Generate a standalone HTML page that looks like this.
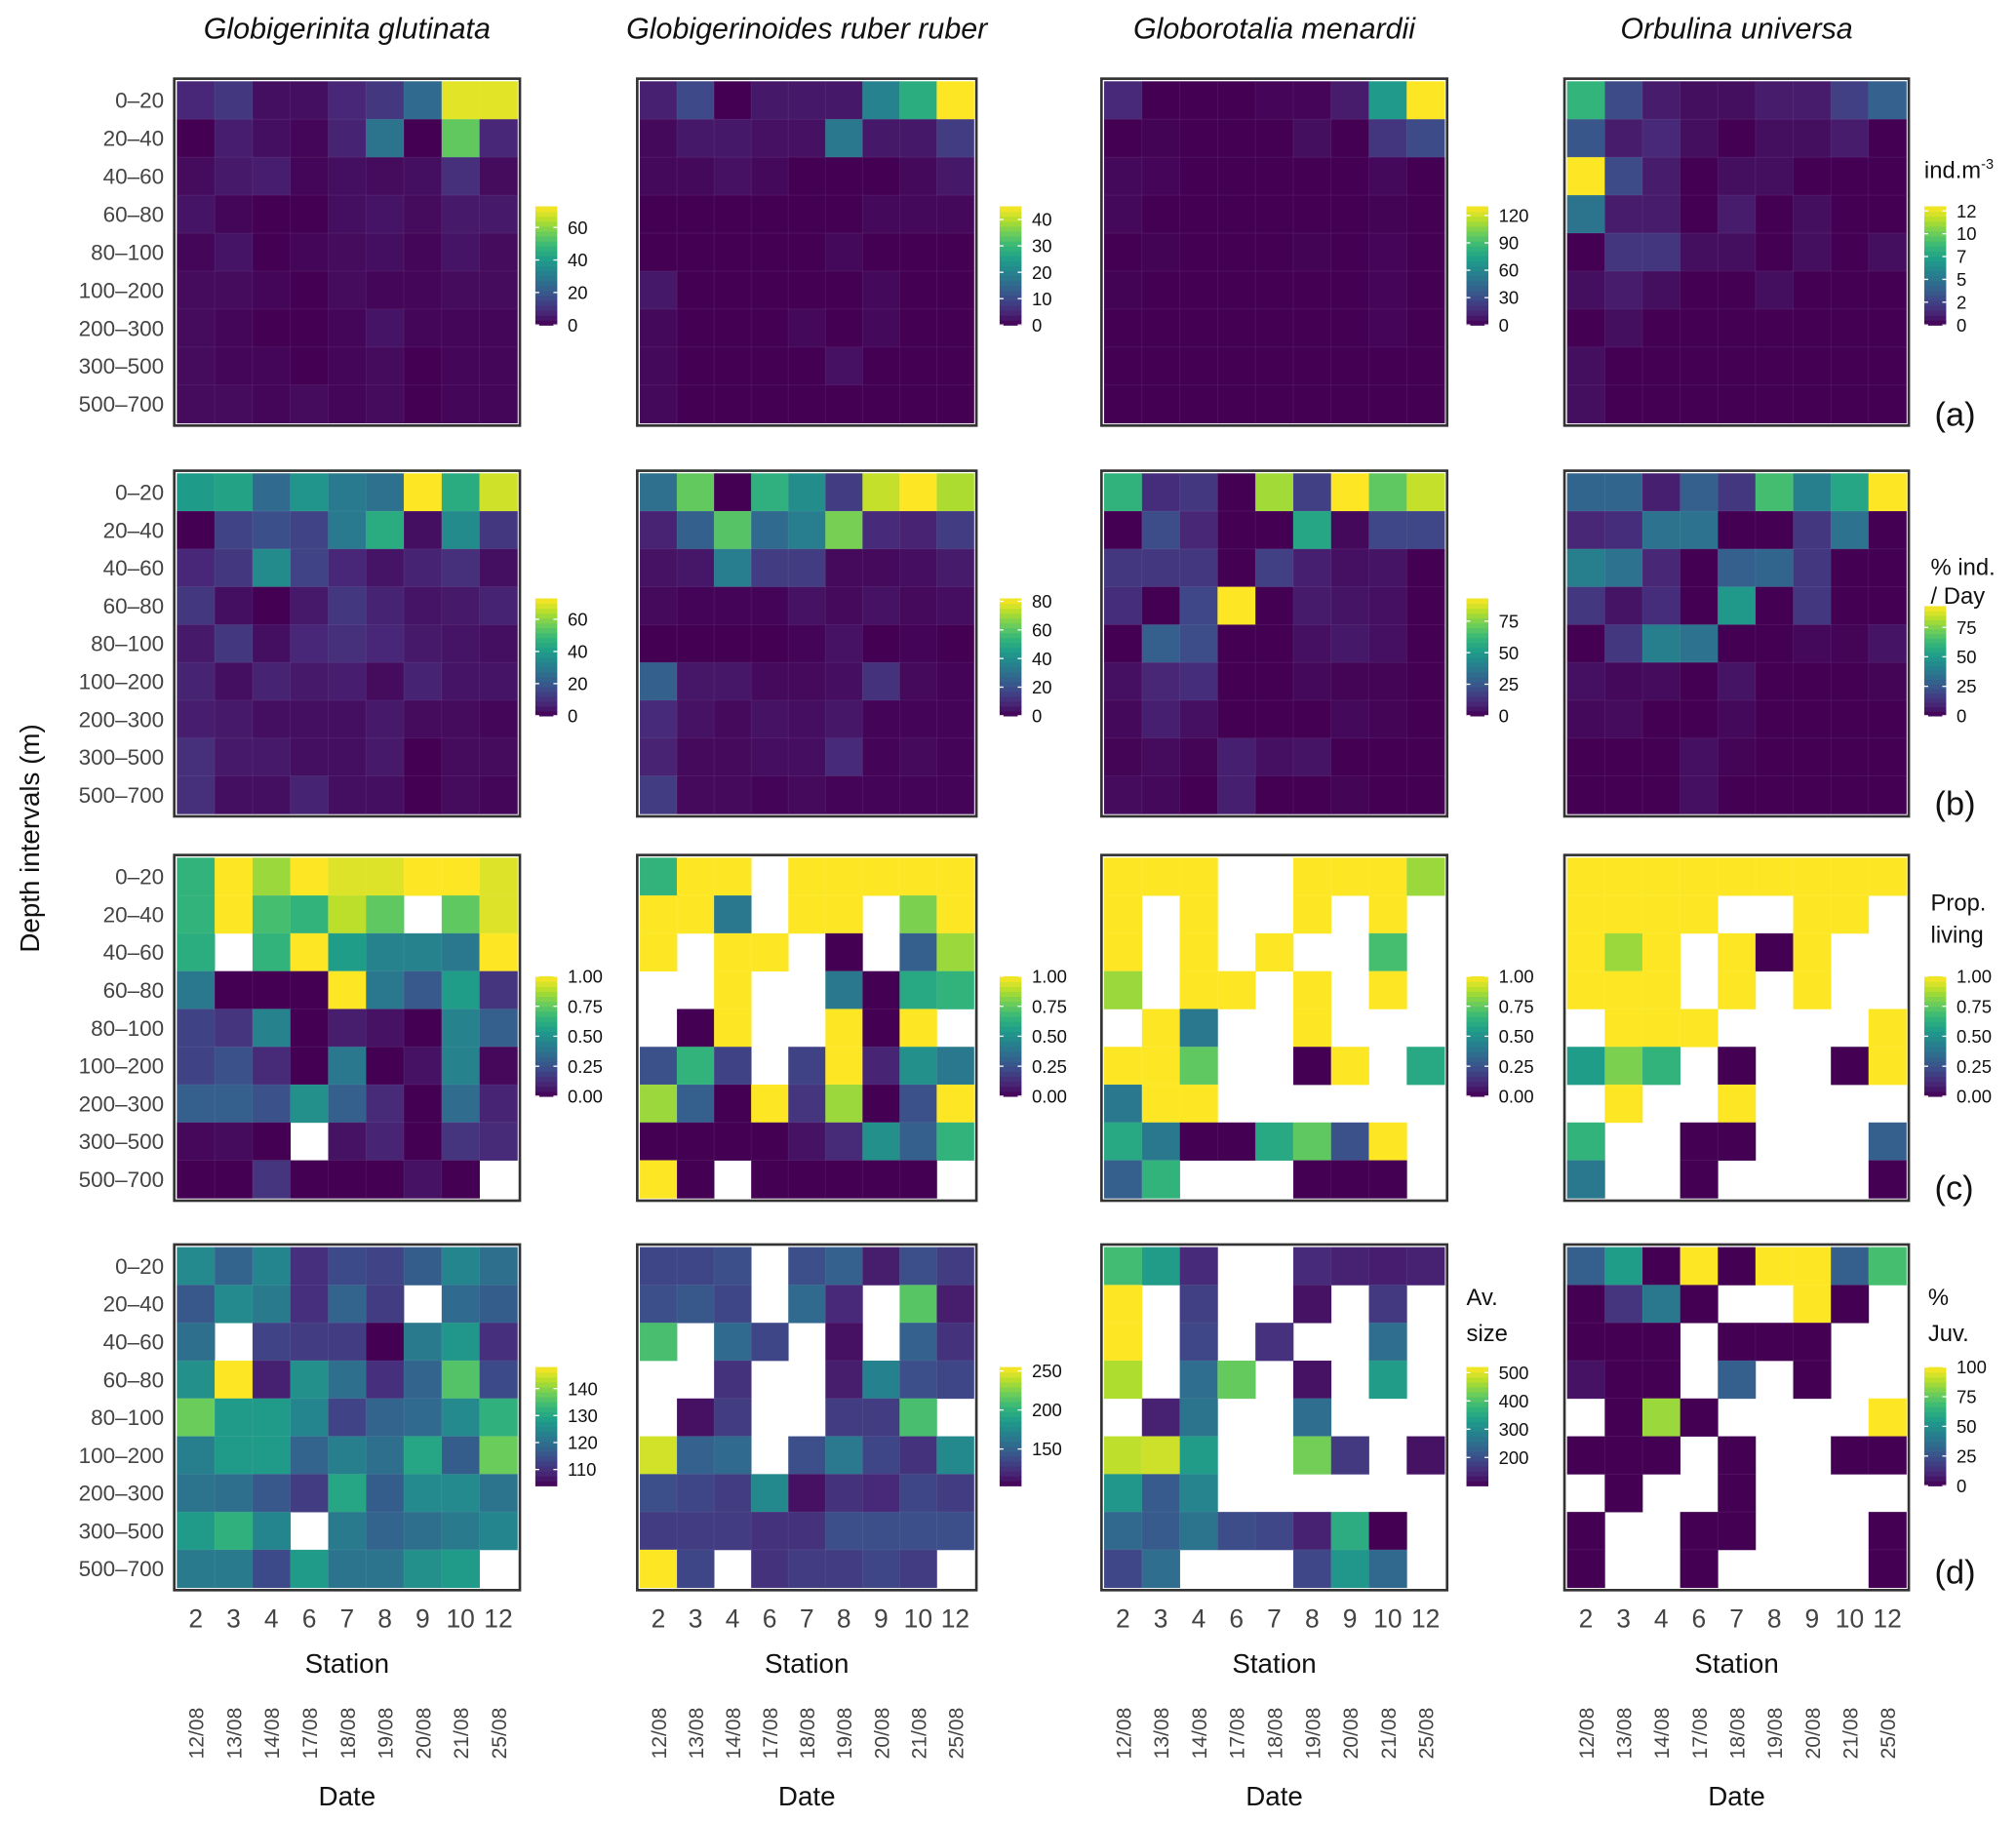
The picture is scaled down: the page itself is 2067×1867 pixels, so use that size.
<!DOCTYPE html>
<html><head><meta charset="utf-8">
<style>
html,body{margin:0;padding:0;background:#fff;}
svg{display:block;font-family:"Liberation Sans",sans-serif;}
</style></head>
<body>
<svg id="fig" width="2067" height="1867" viewBox="0 0 1563 1412" xmlns="http://www.w3.org/2000/svg"></svg>
<script>
// ---- data ----
const stations = ["2","3","4","6","7","8","9","10","12"];
const dates = ["12/08","13/08","14/08","17/08","18/08","19/08","20/08","21/08","25/08"];
const depths = ["0–20","20–40","40–60","60–80","80–100","100–200","200–300","300–500","500–700"];
const species = ["Globigerinita glutinata","Globigerinoides ruber ruber","Globorotalia menardii","Orbulina universa"];
const N = null;
const A1 = [[8,12,3,3,8,12,25,70,70],[0,6,3,1,7,28,0,55,8],[2,5,6,1,3,2,3,10,2],[4,1,0,0,3,4,2,5,5],[1,4,0,1,2,3,1,4,2],[2,2,1,0,2,1,1,2,2],[2,1,0,0,1,4,1,1,1],[2,1,1,0,1,2,0,1,1],[2,2,1,2,1,2,0,1,1]];
const A2 = [[4,10,0,3,3,3,20,28,45],[1,3,3,2,2,18,3,3,8],[1,1,2,1,0,0,0,1,3],[0,0,0,0,0,0,1,1,1],[0,0,0,0,0,1,0,0,0],[3,0,0,0,0,0,1,0,0],[1,0,0,0,1,0,1,0,0],[1,0,0,0,0,2,0,0,0],[1,0,0,0,0,0,0,0,0]];
const A3 = [[15,0,0,0,2,2,10,70,130],[0,1,0,0,0,5,0,20,30],[3,2,0,0,0,0,0,3,0],[3,0,0,0,0,0,0,1,0],[0,1,0,0,0,1,0,2,0],[1,0,0,0,0,0,0,2,0],[0,0,0,0,0,0,0,2,0],[0,0,0,0,0,0,0,0,0],[0,0,0,0,0,0,0,0,0]];
const A4 = [[8.5,3,1,0.5,0.5,1,1,2.5,4],[3.5,1,1.5,0.5,0,0.5,0.5,1,0],[13,3,1,0,0.5,0.5,0,0,0],[5,1,1,0,1,0,0.5,0,0],[0,2,2,0.5,0.5,0,0.5,0,0.5],[0.5,1,0.5,0,0,0.5,0,0,0],[0,0.5,0,0,0,0,0,0,0],[0.5,0,0,0,0,0,0,0,0],[0.5,0,0,0,0,0,0,0,0]];
const B1 = [[40,42,25,38,30,27,73,45,68],[0,15,18,15,30,45,3,35,12],[8,12,35,15,8,4,7,10,3],[12,3,0,5,12,7,4,5,7],[5,12,3,8,10,8,5,4,3],[7,3,7,5,6,2,7,4,4],[6,5,3,3,3,5,2,2,1],[10,5,5,3,3,5,0,2,2],[10,3,3,7,3,3,0,2,1]];
const B2 = [[30,62,0,52,40,15,75,82,72],[8,25,60,28,35,65,10,8,15],[4,5,35,15,15,2,2,3,6],[2,1,1,1,4,2,4,2,3],[0,0,0,0,1,4,0,1,0],[25,5,5,2,2,3,12,2,1],[10,4,2,4,3,5,1,1,1],[8,2,2,3,3,10,1,2,1],[15,2,2,1,2,1,1,1,1]];
const B3 = [[60,12,15,0,80,18,93,70,85],[0,22,10,0,0,55,2,20,20],[15,15,15,0,18,8,4,5,0],[12,0,20,93,0,7,5,4,0],[0,28,22,0,0,4,6,4,0],[4,10,12,0,0,2,1,1,0],[2,8,4,0,0,0,2,1,0],[1,3,1,8,4,5,0,0,0],[3,2,0,8,0,0,1,0,0]];
const B4 = [[30,30,8,28,15,65,40,55,93],[10,12,35,35,0,0,15,35,0],[40,35,10,0,28,30,15,0,0],[15,5,12,0,50,0,15,0,0],[0,15,40,35,0,0,2,1,5],[4,2,3,0,5,0,0,0,1],[2,3,0,0,2,0,0,0,0],[0,0,0,4,1,0,0,0,0],[0,0,0,4,0,0,0,0,0]];
const C1 = [[.65,1,.85,1,.95,.95,1,1,.95],[.65,1,.7,.65,.9,.75,N,.75,.95],[.62,N,.65,1,.55,.45,.45,.4,1],[.4,0,0,0,1,.4,.28,.55,.15],[.2,.15,.45,0,.08,.05,0,.45,.3],[.2,.25,.12,0,.4,0,.05,.45,.02],[.3,.3,.25,.5,.3,.12,0,.35,.1],[.02,.03,0,N,.05,.1,0,.15,.12],[0,0,.15,0,0,0,.05,0,N]];
const C2 = [[.65,1,1,N,1,1,1,1,1],[1,1,.4,N,1,1,N,.8,1],[1,N,1,1,N,0,N,.3,.85],[N,N,1,N,N,.4,0,.6,.65],[N,0,1,N,N,1,0,1,N],[.25,.65,.2,N,.2,1,.1,.5,.4],[.85,.3,0,1,.15,.85,0,.25,1],[0,0,0,0,.05,.12,.5,.3,.65],[1,0,N,0,0,0,0,0,N]];
const C3 = [[1,1,1,N,N,1,1,1,.85],[1,N,1,N,N,1,N,1,N],[1,N,1,N,1,N,N,.7,N],[.85,N,1,1,N,1,N,1,N],[N,1,.4,N,N,1,N,N,N],[1,1,.75,N,N,0,1,N,.6],[.4,1,1,N,N,N,N,N,N],[.6,.4,0,0,.6,.75,.25,1,N],[.3,.65,N,N,N,0,0,0,N]];
const C4 = [[1,1,1,1,1,1,1,1,1],[1,1,1,1,N,N,1,1,N],[1,.85,1,N,1,0,1,N,N],[1,1,1,N,1,N,1,N,N],[N,1,1,1,N,N,N,N,1],[.55,.8,.65,N,0,N,N,0,1],[N,1,N,N,1,N,N,N,N],[.65,N,N,0,0,N,N,N,.3],[.4,N,N,0,N,N,N,N,0]];
const D1 = [[125,118,124,110,114,113,117,124,120],[116,125,122,110,118,112,N,119,117],[120,N,113,112,112,104,122,127,110],[126,148,108,126,120,110,118,136,114],[138,128,128,124,113,118,119,125,132],[123,128,128,118,123,120,130,117,138],[121,120,116,112,130,117,125,125,121],[128,132,124,N,122,118,120,122,124],[122,122,114,128,121,121,126,128,N]];
const D2 = [[135,135,140,N,140,150,115,140,130],[140,145,135,N,155,120,N,215,115],[210,N,155,135,N,110,N,150,125],[N,N,125,N,N,115,170,140,135],[N,110,130,N,N,130,130,210,N],[245,150,155,N,140,165,135,125,175],[140,135,130,175,110,125,120,135,130],[130,130,130,125,125,140,140,140,140],[255,135,N,125,130,130,135,130,N]];
const D3 = [[390,330,150,N,N,150,140,135,140],[520,N,180,N,N,120,N,170,N],[520,N,190,N,160,N,N,250,N],[470,N,250,420,N,120,N,330,N],[N,140,260,N,N,250,N,N,N],[480,490,330,N,N,430,170,N,120],[320,220,290,N,N,N,N,N,N],[240,220,260,200,190,140,360,100,N],[190,250,N,N,N,190,320,240,N]];
const D4 = [[30,55,0,100,0,100,100,30,70],[0,15,40,0,N,N,100,0,N],[0,0,0,N,0,0,0,N,N],[5,0,0,N,30,N,0,N,N],[N,0,85,0,N,N,N,N,100],[0,0,0,N,0,N,N,0,0],[N,0,N,N,0,N,N,N,N],[0,N,N,0,0,N,N,N,0],[0,N,N,0,N,N,N,N,0]];
const grids = [[A1,A2,A3,A4],[B1,B2,B3,B4],[C1,C2,C3,C4],[D1,D2,D3,D4]];
const domains = [[[0,73],[0,45],[0,130],[0,13]],[[0,73],[0,82],[0,93],[0,93]],[[0,1],[0,1],[0,1],[0,1]],[[104,148],[103,255],[100,520],[0,100]]];
const tickVals = [[[0,20,40,60],[0,10,20,30,40],[0,30,60,90,120],[0,2.5,5,7.5,10,12.5]],[[0,20,40,60],[0,20,40,60,80],[0,25,50,75],[0,25,50,75]],[[0,.25,.5,.75,1],[0,.25,.5,.75,1],[0,.25,.5,.75,1],[0,.25,.5,.75,1]],[[110,120,130,140],[150,200,250],[200,300,400,500],[0,25,50,75,100]]];
const tickLabels = [[["0","20","40","60"],["0","10","20","30","40"],["0","30","60","90","120"],["0","2","5","7","10","12"]],[["0","20","40","60"],["0","20","40","60","80"],["0","25","50","75"],["0","25","50","75"]],[["0.00","0.25","0.50","0.75","1.00"],["0.00","0.25","0.50","0.75","1.00"],["0.00","0.25","0.50","0.75","1.00"],["0.00","0.25","0.50","0.75","1.00"]],[["110","120","130","140"],["150","200","250"],["200","300","400","500"],["0","25","50","75","100"]]];

// ---- layout ----
const colX = [[137,401],[496,755],[856,1120],[1215,1478]];
const rowY = [[63,328],[367,631],[665,929],[967,1231]];
const cbX = [415,775,1137,1492];
const cbY = [[160,252],[464,555],[757,850],[1060,1152]];
const svg = document.getElementById('fig');
const NS = "http://www.w3.org/2000/svg";
function mk(tag, attrs, parent){const e=document.createElementNS(NS,tag);for(const k in attrs)e.setAttribute(k,attrs[k]);(parent||svg).appendChild(e);return e;}
const VIR=[[68,1,84],[72,40,120],[62,73,137],[49,104,142],[38,130,142],[31,158,137],[53,183,121],[109,205,89],[180,222,44],[253,231,37]];
function viridis(t){t=Math.max(0,Math.min(1,t));const p=t*(VIR.length-1);const i=Math.min(Math.floor(p),VIR.length-2);const f=p-i;const c=VIR[i].map((v,k)=>Math.round(v+(VIR[i+1][k]-v)*f));return `rgb(${c[0]},${c[1]},${c[2]})`;}

species.forEach((s,c)=>{
  const t=mk('text',{x:(colX[c][0]+colX[c][1])/2,y:30,'text-anchor':'middle','font-size':23,'font-style':'italic',fill:'#111'});
  t.textContent=s;
  
  
});
const yt=mk('text',{x:0,y:0,transform:'translate(30,650) rotate(-90)','text-anchor':'middle','font-size':21,fill:'#111'});
yt.textContent='Depth intervals (m)';



for(let r=0;r<4;r++){
  const rc=rowY[r]; const ch=(rc[1]-rc[0])/9;
  depths.forEach((d,i)=>{
    const t=mk('text',{x:127,y:rc[0]+ch*(i+0.5)+6,'text-anchor':'end','font-size':17,fill:'#444'});
    t.textContent=d;
    
    
  });
  for(let c=0;c<4;c++){
    const cc=colX[c]; const cw=(cc[1]-cc[0])/9;
    const g=mk('g',{});
    
    
    const grid=grids[r][c]; const dom=domains[r][c];
    const xs=i=>cc[0]+cw*i; const ys=i=>rc[0]+ch*i;
    grid.forEach((row,i)=>row.forEach((v,j)=>{
      if(v===null) return;
      const cell=mk('rect',{x:xs(j),y:ys(i),width:cw+0.3,height:ch+0.3,fill:viridis((v-dom[0])/(dom[1]-dom[0])),stroke:'rgba(255,255,255,0.08)','stroke-width':0.6},g);
      
      
    }));
    const fr=mk('rect',{x:cc[0]-2,y:rc[0]-2,width:cc[1]-cc[0]+4,height:rc[1]-rc[0]+4,fill:'none',stroke:'#333','stroke-width':2},g);
    
    
    const cb=mk('g',{});
    
    
    const by=(r===1&&c===3)?[470,555]:cbY[r]; const nb=24;
    for(let k=0;k<nb;k++){
      mk('rect',{x:cbX[c],y:by[1]-(by[1]-by[0])*(k+1)/nb,width:17,height:(by[1]-by[0])/nb+0.5,fill:viridis((k+0.5)/nb)},cb);
    }
    const tv=tickVals[r][c], tl=tickLabels[r][c];
    tv.forEach((v,k)=>{
      const yy=by[1]-(v-dom[0])/(dom[1]-dom[0])*(by[1]-by[0]);
      mk('line',{x1:cbX[c],x2:cbX[c]+3,y1:yy,y2:yy,stroke:'#fff','stroke-width':1},cb);
      mk('line',{x1:cbX[c]+14,x2:cbX[c]+17,y1:yy,y2:yy,stroke:'#fff','stroke-width':1},cb);
      const t=mk('text',{x:cbX[c]+25,y:yy+5,'font-size':14,fill:'#111'},cb);
      t.textContent=tl[k];
    });
    if(r===3){
      stations.forEach((s,j)=>{
        const t=mk('text',{x:xs(j)+cw/2,y:1262,'text-anchor':'middle','font-size':20,fill:'#444'});
        t.textContent=s;
        
        
      });
      const st=mk('text',{x:(cc[0]+cc[1])/2,y:1297,'text-anchor':'middle','font-size':21,fill:'#111'});
      st.textContent='Station';
      
      
      dates.forEach((d,j)=>{
        const xx=xs(j)+cw/2+6;
        const t=mk('text',{x:0,y:0,transform:`translate(${xx},1364) rotate(-90)`,'font-size':16,fill:'#444'});
        t.textContent=d;
        
        
      });
      const dt=mk('text',{x:(cc[0]+cc[1])/2,y:1400,'text-anchor':'middle','font-size':21,fill:'#111'});
      dt.textContent='Date';
      
      
    }
  }
  const pl=mk('text',{x:1500,y:[330,632,930,1228][r],'font-size':26,fill:'#111'});
  pl.textContent='('+'abcd'[r]+')';
  
  
}
const lt=[[1492,138,'ind.m',true],[1497,446,'% ind.'],[1497,468,'/ Day'],[1497,706,'Prop.'],[1497,731,'living'],[1137,1012,'Av.'],[1137,1040,'size'],[1495,1012,'%'],[1495,1040,'Juv.']];
lt.forEach(a=>{
  const t=mk('text',{x:a[0],y:a[1],'font-size':18,fill:'#111'});
  t.textContent=a[2];
  if(a[3]){const s=mk('tspan',{dy:-7,'font-size':11},t);s.textContent='-3';}
  
  
});
</script>
</body></html>
